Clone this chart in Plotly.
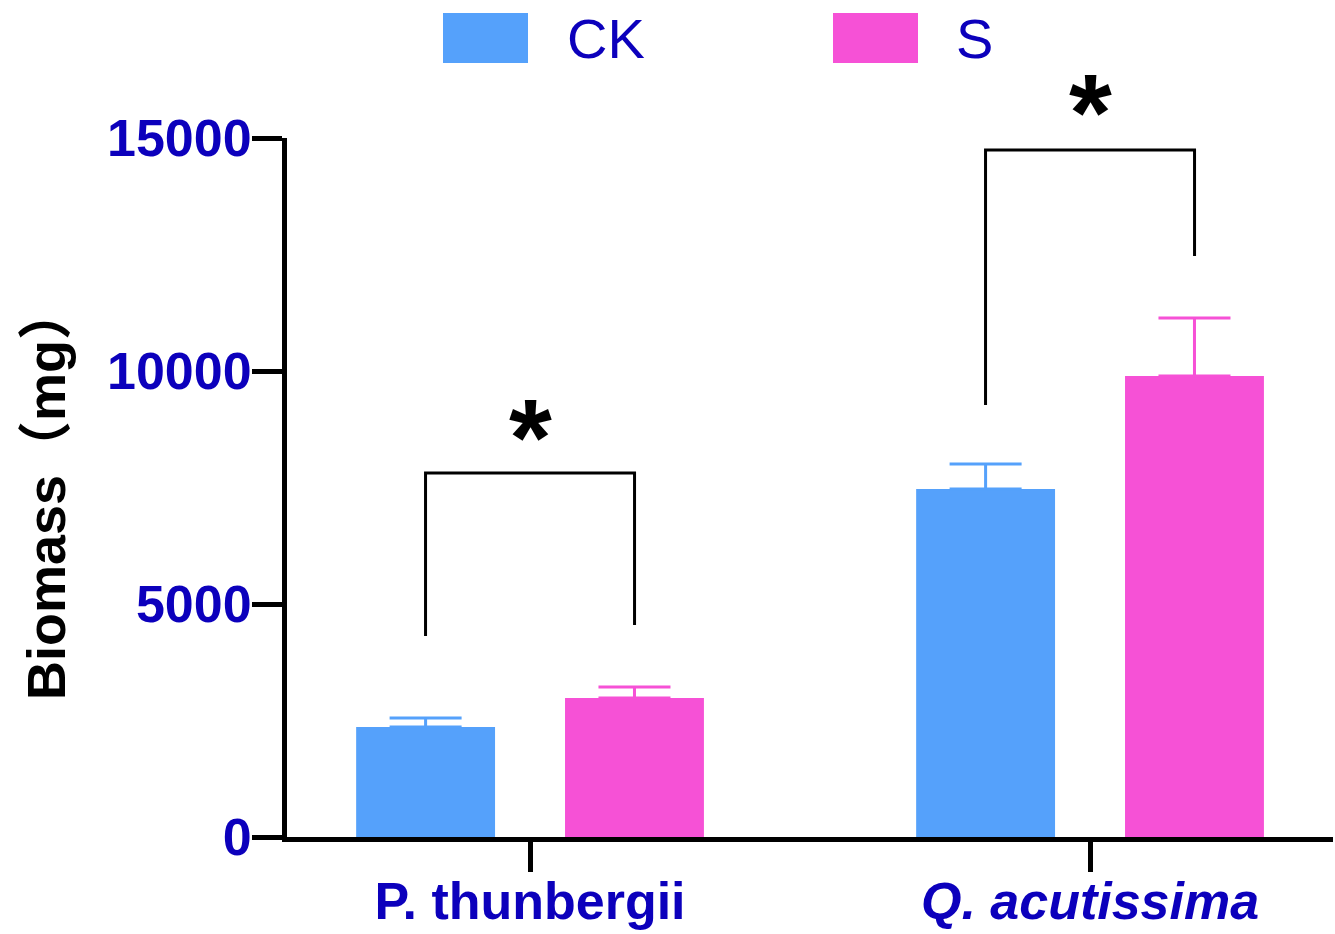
import plotly.graph_objects as go

# ---- data ----
categories = ["P. thunbergii", "Q. acutissima"]
tick_text = ["P. thunbergii", "<i>Q. acutissima</i>"]
ck_values = [2360, 7468]
ck_errors = [194, 536]
s_values = [2983, 9893]
s_errors = [236, 1244]
y_ticks = [0, 5000, 10000, 15000]
y_tick_text = ["0", "5000", "10000", "15000"]
y_max = 15000

# significance brackets: (left foot, top, right foot) in data units
bracket_left = [4313, 9270]
bracket_top = [7811, 14742]
bracket_right = [4549, 12468]
star_y = [8884, 15837]
star_text = ["*", "*"]

BLUE = "#55A1FB"
PINK = "#F651D6"
TXT = "#0C00BC"
FONT = "Liberation Sans, Arial, Noto Sans CJK SC, sans-serif"

x_pos = list(range(len(categories)))

fig = go.Figure()
fig.add_trace(go.Bar(
    x=x_pos, y=ck_values, name="CK", marker=dict(color=BLUE, line=dict(width=0)),
    error_y=dict(type="data", array=ck_errors, arrayminus=[0] * len(ck_errors),
                 symmetric=False, color=BLUE, thickness=3, width=36),
))
fig.add_trace(go.Bar(
    x=x_pos, y=s_values, name="S", marker=dict(color=PINK, line=dict(width=0)),
    error_y=dict(type="data", array=s_errors, arrayminus=[0] * len(s_errors),
                 symmetric=False, color=PINK, thickness=3, width=36),
))

W, H = 1335, 934
ml, mr, mt, mb = 287, 2, 138, 97
pw = W - ml - mr
ph = H - mt - mb
x0_range = -0.434
x1_range = x0_range + pw / 560

def px_x(p):
    return (p - ml) / pw

def px_y(p):
    return (H - mb - p) / ph

half = 0.1866
shapes = []
for i in x_pos:
    shapes.append(dict(
        type="path", xref="x", yref="y",
        path=f"M {i - half},{bracket_left[i]} L {i - half},{bracket_top[i]} "
             f"L {i + half},{bracket_top[i]} L {i + half},{bracket_right[i]}",
        line=dict(color="black", width=3),
    ))

annotations = []
for i in x_pos:
    annotations.append(dict(
        x=(i - x0_range) / (x1_range - x0_range), y=star_y[i] / y_max,
        xref="paper", yref="paper", text=star_text[i], showarrow=False,
        font=dict(family=FONT, size=110, color="black", weight="bold"),
        xanchor="center", yanchor="middle", yshift=-13,
    ))

# manual legend
legend_items = [("CK", BLUE, 443, 565), ("S", PINK, 833, 954)]
for name, col, sx, tx in legend_items:
    shapes.append(dict(
        type="rect", xref="paper", yref="paper",
        x0=px_x(sx), x1=px_x(sx + 85), y0=px_y(63), y1=px_y(13),
        fillcolor=col, line=dict(width=0),
    ))
    annotations.append(dict(
        x=px_x(tx), y=px_y(38), xref="paper", yref="paper", text=name,
        showarrow=False, xanchor="left", yanchor="middle",
        font=dict(family=FONT, size=56, color=TXT),
    ))

# y axis title
cjk = "<span style='font-family:Noto Sans CJK SC'>"
annotations.append(dict(
    x=px_x(41), y=px_y(493), xref="paper", yref="paper",
    text=f"Biomass{cjk}（</span>mg{cjk}）</span>",
    showarrow=False, textangle=-90, xanchor="center", yanchor="middle",
    font=dict(family=FONT, size=54, color="black", weight="bold"),
))

fig.update_layout(
    width=W, height=H,
    margin=dict(l=ml, r=mr, t=mt, b=mb, autoexpand=False),
    paper_bgcolor="white", plot_bgcolor="white",
    barmode="group", bargap=0.254, bargroupgap=0.335,
    showlegend=False,
    shapes=shapes, annotations=annotations,
    xaxis=dict(
        range=[x0_range, x1_range], tickvals=x_pos, ticktext=tick_text,
        showline=True, linecolor="black", linewidth=5,
        ticks="outside", ticklen=30, tickwidth=5, tickcolor="black",
        tickfont=dict(family=FONT, size=52, color=TXT, weight="bold"),
        ticklabelstandoff=-15,
        showgrid=False, zeroline=False, fixedrange=True,
    ),
    yaxis=dict(
        range=[0, y_max], tickvals=y_ticks, ticktext=y_tick_text,
        showline=True, linecolor="black", linewidth=5,
        ticks="outside", ticklen=30, tickwidth=5, tickcolor="black",
        tickfont=dict(family=FONT, size=52, color=TXT, weight="bold"),
        ticklabelstandoff=-10,
        showgrid=False, zeroline=False, fixedrange=True,
    ),
)

fig.write_html("out.html")
